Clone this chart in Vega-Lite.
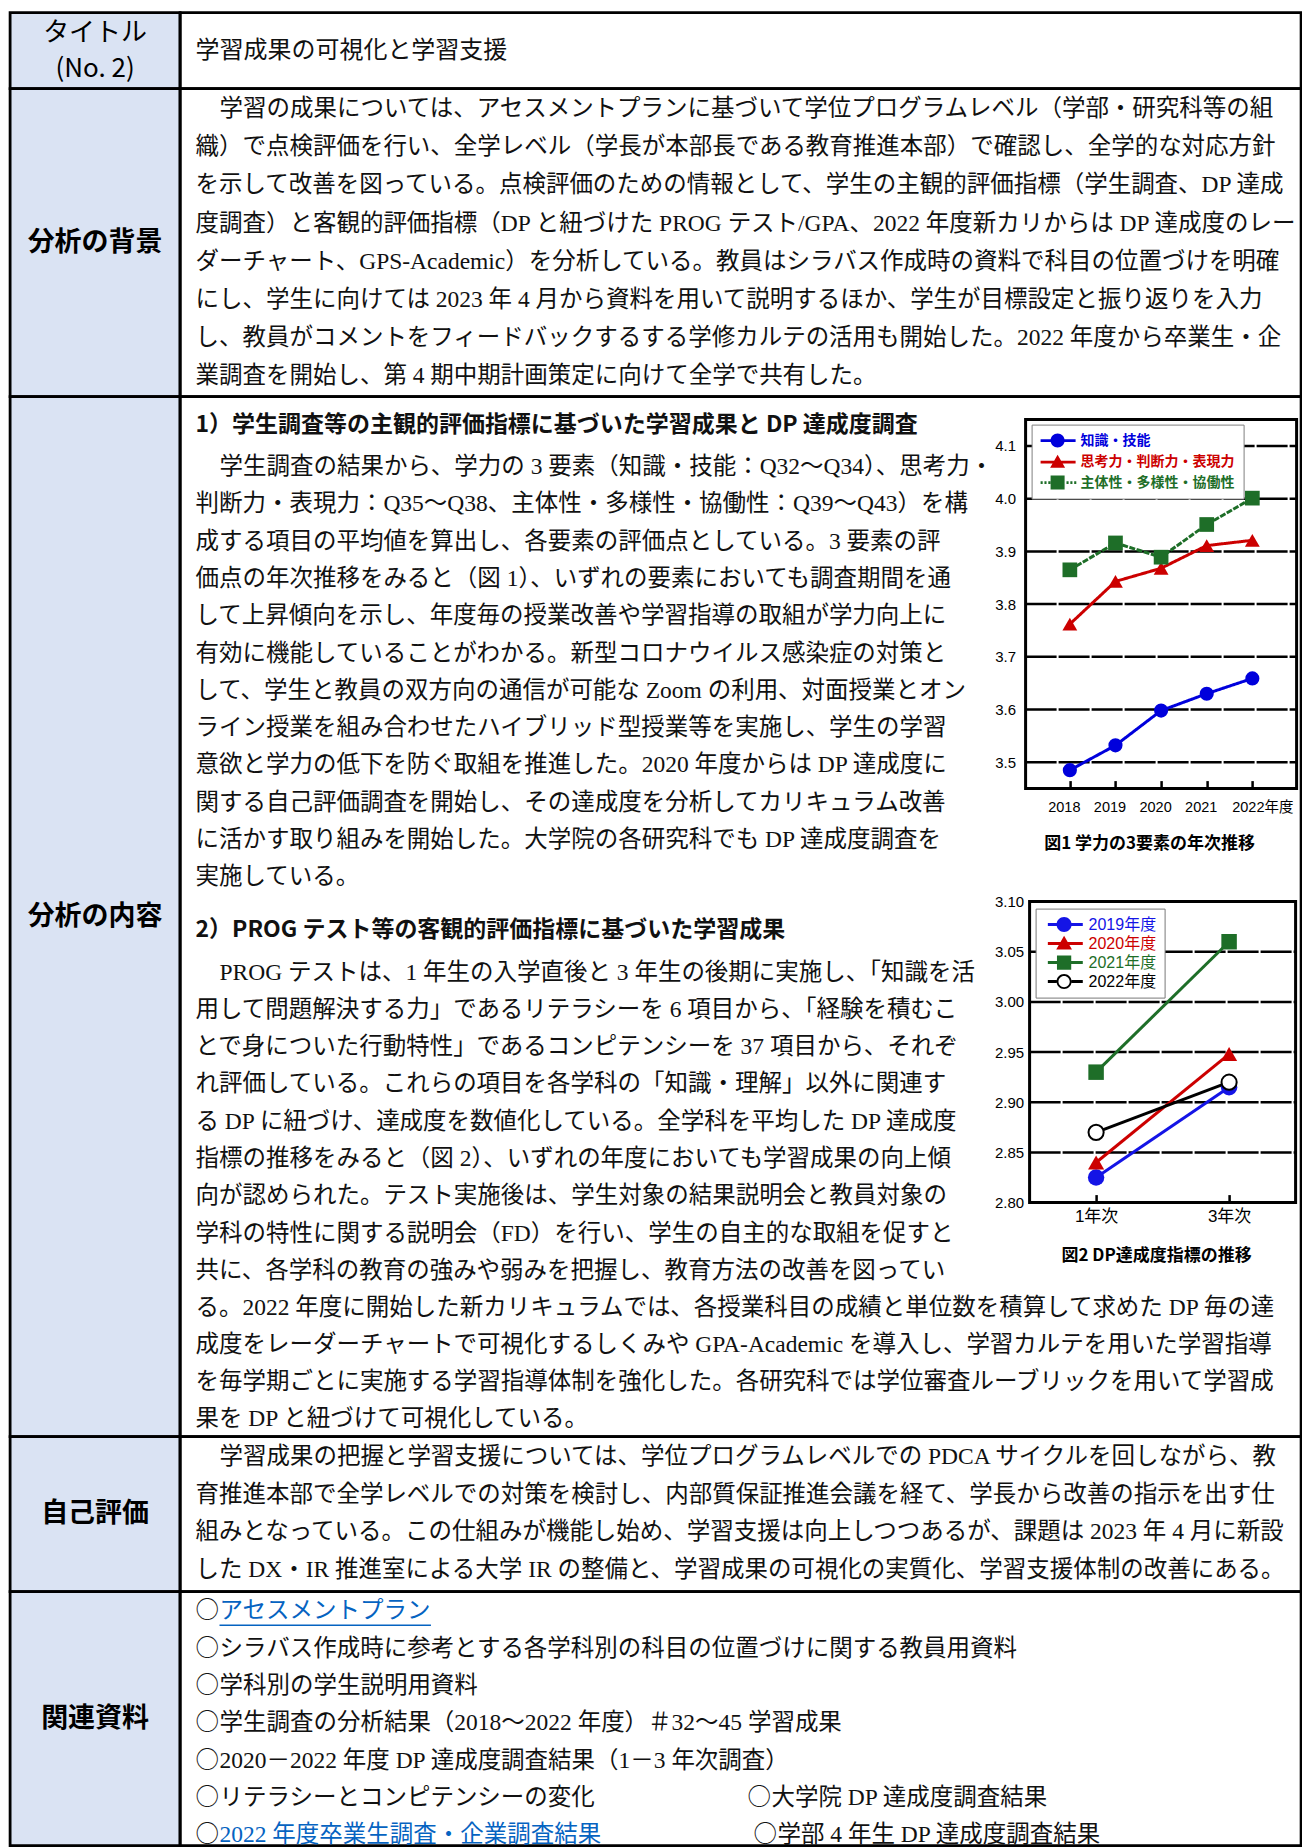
{
  "$schema": "https://vega.github.io/schema/vega-lite/v6.json",
  "autosize": {"type": "pad"},
  "padding": {"left": 8.1, "top": 10.6, "right": 0, "bottom": 0},
  "background": "white",
  "columns": 2,
  "spacing": 0,
  "bounds": "flush",
  "config": {"view": {"stroke": null}},
  "datasets": {
    "fig1": [
      {"year": 2018, "element": "知識・技能", "score": 3.485},
      {"year": 2019, "element": "知識・技能", "score": 3.532},
      {"year": 2020, "element": "知識・技能", "score": 3.598},
      {"year": 2021, "element": "知識・技能", "score": 3.630},
      {"year": 2022, "element": "知識・技能", "score": 3.659},
      {"year": 2018, "element": "思考力・判断力・表現力", "score": 3.762},
      {"year": 2019, "element": "思考力・判断力・表現力", "score": 3.843},
      {"year": 2020, "element": "思考力・判断力・表現力", "score": 3.868},
      {"year": 2021, "element": "思考力・判断力・表現力", "score": 3.911},
      {"year": 2022, "element": "思考力・判断力・表現力", "score": 3.921},
      {"year": 2018, "element": "主体性・多様性・協働性", "score": 3.865},
      {"year": 2019, "element": "主体性・多様性・協働性", "score": 3.916},
      {"year": 2020, "element": "主体性・多様性・協働性", "score": 3.889},
      {"year": 2021, "element": "主体性・多様性・協働性", "score": 3.951},
      {"year": 2022, "element": "主体性・多様性・協働性", "score": 4.001}
    ],
    "fig2": [
      {"grade": 1, "cohort": "2019年度", "score": 2.825},
      {"grade": 3, "cohort": "2019年度", "score": 2.915},
      {"grade": 1, "cohort": "2020年度", "score": 2.84},
      {"grade": 3, "cohort": "2020年度", "score": 2.948},
      {"grade": 1, "cohort": "2021年度", "score": 2.93},
      {"grade": 3, "cohort": "2021年度", "score": 3.06},
      {"grade": 1, "cohort": "2022年度", "score": 2.87},
      {"grade": 3, "cohort": "2022年度", "score": 2.92}
    ]
  },
  "resolve": {"scale": {"color": "independent", "fill": "independent", "shape": "independent", "strokeDash": "independent"}, "legend": {"color": "independent", "fill": "independent", "shape": "independent"}},
  "concat": [
    {
      "width": 170, "height": 76,
      "view": {"fill": "#dae3f3", "stroke": "black", "strokeWidth": 2.8},
      "data": {"values": [{"label": "タイトル\n(No. 2)"}]},
      "mark": {"type": "text", "align": "center", "baseline": "middle", "lineBreak": "\n", "lineHeight": 36.5, "dy": -18, "font": "Noto Sans CJK JP", "fontSize": 26, "color": "black"},
      "encoding": {
        "x": {"datum": 0.5, "type": "quantitative", "scale": {"domain": [0, 1]}, "axis": null},
        "y": {"datum": 0.5, "type": "quantitative", "scale": {"domain": [0, 1]}, "axis": null},
        "text": {"field": "label"}
      }
    },
    {
      "width": 1121, "height": 76,
      "view": {"stroke": "black", "strokeWidth": 2.8},
      "data": {"values": [{"line": 1, "text": "学習成果の可視化と学習支援"}]},
      "mark": {"type": "text", "align": "left", "baseline": "middle", "font": "Liberation Serif, Noto Sans CJK JP", "fontSize": 24, "color": "#111"},
      "encoding": {
        "x": {"datum": 0, "type": "quantitative", "scale": {"domain": [-0.642, 46.067], "nice": false, "zero": false}, "axis": null},
        "y": {"field": "line", "type": "quantitative", "scale": {"domain": [0, 2], "reverse": true, "nice": false, "zero": false}, "axis": null},
        "text": {"field": "text"}
      }
    },
    {
      "width": 170, "height": 308,
      "view": {"fill": "#dae3f3", "stroke": "black", "strokeWidth": 2.8},
      "data": {"values": [{"label": "分析の背景"}]},
      "mark": {"type": "text", "align": "center", "baseline": "middle", "font": "Noto Sans CJK JP", "fontSize": 27, "fontWeight": "bold", "color": "black"},
      "encoding": {
        "x": {"datum": 0.5, "type": "quantitative", "scale": {"domain": [0, 1]}, "axis": null},
        "y": {"datum": 0.5, "type": "quantitative", "scale": {"domain": [0, 1]}, "axis": null},
        "text": {"field": "label"}
      }
    },
    {
      "width": 1121, "height": 308,
      "view": {"stroke": "black", "strokeWidth": 2.8},
      "data": {"values": [
        {"line": 1, "indent": 1, "text": "学習の成果については、アセスメントプランに基づいて学位プログラムレベル（学部・研究科等の組"},
        {"line": 2, "indent": 0, "text": "織）で点検評価を行い、全学レベル（学長が本部長である教育推進本部）で確認し、全学的な対応方針"},
        {"line": 3, "indent": 0, "text": "を示して改善を図っている。点検評価のための情報として、学生の主観的評価指標（学生調査、DP 達成"},
        {"line": 4, "indent": 0, "text": "度調査）と客観的評価指標（DP と紐づけた PROG テスト/GPA、2022 年度新カリからは DP 達成度のレー"},
        {"line": 5, "indent": 0, "text": "ダーチャート、GPS-Academic）を分析している。教員はシラバス作成時の資料で科目の位置づけを明確"},
        {"line": 6, "indent": 0, "text": "にし、学生に向けては 2023 年 4 月から資料を用いて説明するほか、学生が目標設定と振り返りを入力"},
        {"line": 7, "indent": 0, "text": "し、教員がコメントをフィードバックするする学修カルテの活用も開始した。2022 年度から卒業生・企"},
        {"line": 8, "indent": 0, "text": "業調査を開始し、第 4 期中期計画策定に向けて全学で共有した。"}
      ]},
      "mark": {"type": "text", "align": "left", "baseline": "middle", "font": "Liberation Serif, Noto Sans CJK JP", "fontSize": 23.5, "color": "#111"},
      "encoding": {
        "x": {"field": "indent", "type": "quantitative", "scale": {"domain": [-0.642, 46.067], "nice": false, "zero": false}, "axis": null},
        "y": {"field": "line", "type": "quantitative", "scale": {"domain": [0.466, 8.529], "reverse": true, "nice": false, "zero": false}, "axis": null},
        "text": {"field": "text"}
      }
    },
    {
      "width": 170, "height": 1040,
      "view": {"fill": "#dae3f3", "stroke": "black", "strokeWidth": 2.8},
      "data": {"values": [{"label": "分析の内容"}]},
      "mark": {"type": "text", "align": "center", "baseline": "middle", "font": "Noto Sans CJK JP", "fontSize": 27, "fontWeight": "bold", "color": "black"},
      "encoding": {
        "x": {"datum": 0.5, "type": "quantitative", "scale": {"domain": [0, 1]}, "axis": null},
        "y": {"datum": 0.5, "type": "quantitative", "scale": {"domain": [0, 1]}, "axis": null},
        "text": {"field": "label"}
      }
    },
    {
      "width": 1121, "height": 1040,
      "view": {"stroke": "black", "strokeWidth": 2.8},
      "resolve": {
        "scale": {"x": "independent", "y": "independent", "color": "independent", "fill": "independent", "shape": "independent", "strokeDash": "independent"},
        "axis": {"x": "independent", "y": "independent"},
        "legend": {"color": "independent", "fill": "independent", "shape": "independent"}
      },
      "layer": [
        {
          "data": {"values": [{"line": 1, "text": "1）学生調査等の主観的評価指標に基づいた学習成果と DP 達成度調査"}]},
          "mark": {"type": "text", "align": "left", "baseline": "middle", "font": "Noto Sans CJK JP", "fontSize": 23, "fontWeight": "bold", "color": "#111"},
          "encoding": {
            "x": {"datum": 0, "type": "quantitative", "scale": {"domain": [-0.642, 46.067], "nice": false, "zero": false}, "axis": null},
            "y": {"field": "line", "type": "quantitative", "scale": {"domain": [0.436, 21.236], "reverse": true, "nice": false, "zero": false}, "axis": null},
            "text": {"field": "text"}
          }
        },
        {
          "data": {"values": [
            {"line": 1, "indent": 1, "text": "学生調査の結果から、学力の 3 要素（知識・技能：Q32〜Q34）、思考力・"},
            {"line": 2, "indent": 0, "text": "判断力・表現力：Q35〜Q38、主体性・多様性・協働性：Q39〜Q43）を構"},
            {"line": 3, "indent": 0, "text": "成する項目の平均値を算出し、各要素の評価点としている。3 要素の評"},
            {"line": 4, "indent": 0, "text": "価点の年次推移をみると（図 1）、いずれの要素においても調査期間を通"},
            {"line": 5, "indent": 0, "text": "して上昇傾向を示し、年度毎の授業改善や学習指導の取組が学力向上に"},
            {"line": 6, "indent": 0, "text": "有効に機能していることがわかる。新型コロナウイルス感染症の対策と"},
            {"line": 7, "indent": 0, "text": "して、学生と教員の双方向の通信が可能な Zoom の利用、対面授業とオン"},
            {"line": 8, "indent": 0, "text": "ライン授業を組み合わせたハイブリッド型授業等を実施し、学生の学習"},
            {"line": 9, "indent": 0, "text": "意欲と学力の低下を防ぐ取組を推進した。2020 年度からは DP 達成度に"},
            {"line": 10, "indent": 0, "text": "関する自己評価調査を開始し、その達成度を分析してカリキュラム改善"},
            {"line": 11, "indent": 0, "text": "に活かす取り組みを開始した。大学院の各研究科でも DP 達成度調査を"},
            {"line": 12, "indent": 0, "text": "実施している。"}
          ]},
          "mark": {"type": "text", "align": "left", "baseline": "middle", "font": "Liberation Serif, Noto Sans CJK JP", "fontSize": 23.5, "color": "#111"},
          "encoding": {
            "x": {"field": "indent", "type": "quantitative", "scale": {"domain": [-0.642, 46.067], "nice": false, "zero": false}, "axis": null},
            "y": {"field": "line", "type": "quantitative", "scale": {"domain": [-0.8943, 27.0102], "reverse": true, "nice": false, "zero": false}, "axis": null},
            "text": {"field": "text"}
          }
        },
        {
          "data": {"values": [{"line": 1, "text": "2）PROG テスト等の客観的評価指標に基づいた学習成果"}]},
          "mark": {"type": "text", "align": "left", "baseline": "middle", "font": "Noto Sans CJK JP", "fontSize": 23, "fontWeight": "bold", "color": "#111"},
          "encoding": {
            "x": {"datum": 0, "type": "quantitative", "scale": {"domain": [-0.642, 46.067], "nice": false, "zero": false}, "axis": null},
            "y": {"field": "line", "type": "quantitative", "scale": {"domain": [-9.674, 11.126], "reverse": true, "nice": false, "zero": false}, "axis": null},
            "text": {"field": "text"}
          }
        },
        {
          "data": {"values": [
            {"line": 1, "indent": 1, "text": "PROG テストは、1 年生の入学直後と 3 年生の後期に実施し、「知識を活"},
            {"line": 2, "indent": 0, "text": "用して問題解決する力」であるリテラシーを 6 項目から、「経験を積むこ"},
            {"line": 3, "indent": 0, "text": "とで身についた行動特性」であるコンピテンシーを 37 項目から、それぞ"},
            {"line": 4, "indent": 0, "text": "れ評価している。これらの項目を各学科の「知識・理解」以外に関連す"},
            {"line": 5, "indent": 0, "text": "る DP に紐づけ、達成度を数値化している。全学科を平均した DP 達成度"},
            {"line": 6, "indent": 0, "text": "指標の推移をみると（図 2）、いずれの年度においても学習成果の向上傾"},
            {"line": 7, "indent": 0, "text": "向が認められた。テスト実施後は、学生対象の結果説明会と教員対象の"},
            {"line": 8, "indent": 0, "text": "学科の特性に関する説明会（FD）を行い、学生の自主的な取組を促すと"},
            {"line": 9, "indent": 0, "text": "共に、各学科の教育の強みや弱みを把握し、教育方法の改善を図ってい"}
          ]},
          "mark": {"type": "text", "align": "left", "baseline": "middle", "font": "Liberation Serif, Noto Sans CJK JP", "fontSize": 23.5, "color": "#111"},
          "encoding": {
            "x": {"field": "indent", "type": "quantitative", "scale": {"domain": [-0.642, 46.067], "nice": false, "zero": false}, "axis": null},
            "y": {"field": "line", "type": "quantitative", "scale": {"domain": [-14.4616, 13.4503], "reverse": true, "nice": false, "zero": false}, "axis": null},
            "text": {"field": "text"}
          }
        },
        {
          "data": {"values": [
            {"line": 1, "text": "る。2022 年度に開始した新カリキュラムでは、各授業科目の成績と単位数を積算して求めた DP 毎の達"},
            {"line": 2, "text": "成度をレーダーチャートで可視化するしくみや GPA-Academic を導入し、学習カルテを用いた学習指導"},
            {"line": 3, "text": "を毎学期ごとに実施する学習指導体制を強化した。各研究科では学位審査ルーブリックを用いて学習成"},
            {"line": 4, "text": "果を DP と紐づけて可視化している。"}
          ]},
          "mark": {"type": "text", "align": "left", "baseline": "middle", "font": "Liberation Serif, Noto Sans CJK JP", "fontSize": 23.5, "color": "#111"},
          "encoding": {
            "x": {"datum": 0, "type": "quantitative", "scale": {"domain": [-0.642, 46.067], "nice": false, "zero": false}, "axis": null},
            "y": {"field": "line", "type": "quantitative", "scale": {"domain": [-23.6459, 4.4622], "reverse": true, "nice": false, "zero": false}, "axis": null},
            "text": {"field": "text"}
          }
        },
        {
          "data": {"values": [{"v": 3.5}, {"v": 3.6}, {"v": 3.7}, {"v": 3.8}, {"v": 3.9}, {"v": 4.0}, {"v": 4.1}]},
          "mark": {"type": "rule", "color": "black", "strokeWidth": 2.5, "strokeDash": [31, 2]},
          "encoding": {
            "y": {"field": "v", "type": "quantitative", "scale": {"domain": [2.22072, 4.19363], "nice": false, "zero": false}, "axis": null},
            "x": {"datum": 2017.03, "type": "quantitative", "scale": {"domain": [1998.4977, 2023.0686], "nice": false, "zero": false}, "axis": null},
            "x2": {"datum": 2022.97}
          }
        },
        {
          "data": {"values": [{"frame": "図1"}]},
          "mark": {"type": "rect", "filled": false, "stroke": "black", "strokeWidth": 3},
          "encoding": {
            "x": {"datum": 2017.03, "type": "quantitative", "scale": {"domain": [1998.4977, 2023.0686], "nice": false, "zero": false}, "axis": null},
            "x2": {"datum": 2022.97},
            "y": {"datum": 3.45, "type": "quantitative", "scale": {"domain": [2.22072, 4.19363], "nice": false, "zero": false}, "axis": null},
            "y2": {"datum": 4.15}
          }
        },
        {
          "data": {"name": "fig1"},
          "mark": {"type": "line", "strokeWidth": 3},
          "encoding": {
            "x": {"field": "year", "type": "quantitative", "scale": {"domain": [1998.4977, 2023.0686], "nice": false, "zero": false},
              "axis": {"orient": "bottom", "offset": -648, "values": [2018, 2019, 2020, 2021, 2022], "format": "d", "title": null, "domain": false, "grid": false, "ticks": true, "tickSize": -8, "tickWidth": 2.5, "tickColor": "black", "labelAngle": 0, "labelFlush": false, "labelOverlap": false, "labelFont": "Liberation Sans, Noto Sans CJK JP", "labelFontSize": 14.5, "labelColor": "black", "labelPadding": 20, "labelExpr": "datum.value == 2022 ? '2022年度' : datum.label", "labelOffset": {"condition": {"test": "datum.value == 2022", "value": 10}, "value": -6}}},
            "y": {"field": "score", "type": "quantitative", "scale": {"domain": [2.22072, 4.19363], "nice": false, "zero": false},
              "axis": {"orient": "left", "offset": -845.5, "values": [3.5, 3.6, 3.7, 3.8, 3.9, 4.0, 4.1], "format": ".1f", "title": null, "domain": false, "grid": false, "ticks": false, "labelPadding": 10, "labelFlush": false, "labelOverlap": false, "labelFont": "Liberation Sans", "labelFontSize": 15, "labelColor": "black"}},
            "color": {"field": "element", "type": "nominal", "scale": {"domain": ["知識・技能", "思考力・判断力・表現力", "主体性・多様性・協働性"], "range": ["#0000dc", "#cc0000", "#1e6e28"]}, "legend": null},
            "strokeDash": {"field": "element", "type": "nominal", "scale": {"domain": ["知識・技能", "思考力・判断力・表現力", "主体性・多様性・協働性"], "range": [[1, 0], [1, 0], [6, 1.5]]}, "legend": null}
          }
        },
        {
          "data": {"name": "fig1"},
          "transform": [{"filter": "datum.element == '知識・技能'"}],
          "mark": {"type": "point", "shape": "circle", "filled": true, "opacity": 1, "size": 200, "color": "#0000dc"},
          "encoding": {
            "x": {"field": "year", "type": "quantitative", "scale": {"domain": [1998.4977, 2023.0686], "nice": false, "zero": false}, "axis": null},
            "y": {"field": "score", "type": "quantitative", "scale": {"domain": [2.22072, 4.19363], "nice": false, "zero": false}, "axis": null}
          }
        },
        {
          "data": {"name": "fig1"},
          "transform": [{"filter": "datum.element == '思考力・判断力・表現力'"}],
          "mark": {"type": "point", "shape": "triangle-up", "filled": true, "opacity": 1, "size": 220, "color": "#cc0000"},
          "encoding": {
            "x": {"field": "year", "type": "quantitative", "scale": {"domain": [1998.4977, 2023.0686], "nice": false, "zero": false}, "axis": null},
            "y": {"field": "score", "type": "quantitative", "scale": {"domain": [2.22072, 4.19363], "nice": false, "zero": false}, "axis": null}
          }
        },
        {
          "data": {"name": "fig1"},
          "transform": [{"filter": "datum.element == '主体性・多様性・協働性'"}],
          "mark": {"type": "point", "shape": "square", "filled": true, "opacity": 1, "size": 216, "color": "#1e6e28"},
          "encoding": {
            "x": {"field": "year", "type": "quantitative", "scale": {"domain": [1998.4977, 2023.0686], "nice": false, "zero": false}, "axis": null},
            "y": {"field": "score", "type": "quantitative", "scale": {"domain": [2.22072, 4.19363], "nice": false, "zero": false}, "axis": null}
          }
        },
        {
          "data": {"name": "fig1"},
          "mark": {"type": "point", "filled": true, "opacity": 0},
          "encoding": {
            "x": {"field": "year", "type": "quantitative", "scale": {"domain": [1998.4977, 2023.0686], "nice": false, "zero": false}, "axis": null},
            "y": {"field": "score", "type": "quantitative", "scale": {"domain": [2.22072, 4.19363], "nice": false, "zero": false}, "axis": null},
            "fill": {"field": "element", "type": "nominal",
              "scale": {"domain": ["知識・技能", "思考力・判断力・表現力", "主体性・多様性・協働性"], "range": ["#0000dc", "#cc0000", "#1e6e28"]},
              "legend": {"orient": "none", "legendX": 851.5, "legendY": 28, "title": null, "padding": 9, "strokeColor": "#808080", "fillColor": "white", "symbolSize": 196, "symbolOpacity": 1, "symbolStrokeWidth": 0, "labelOffset": 26, "labelFont": "Noto Sans CJK JP", "labelFontSize": 14, "labelFontWeight": "bold", "labelLimit": 220, "rowPadding": 6.5, "labelColor": {"expr": "datum.value == '知識・技能' ? '#0000dc' : datum.value == '思考力・判断力・表現力' ? '#cc0000' : '#1e6e28'"}}},
            "shape": {"field": "element", "type": "nominal",
              "scale": {"domain": ["知識・技能", "思考力・判断力・表現力", "主体性・多様性・協働性"], "range": [
                "M-1,-0.2H4V0.2H-1Z M2.43,0A1,1 0 1,1 0.43,0A1,1 0 1,1 2.43,0Z",
                "M-1,-0.2H4V0.2H-1Z M1.43,-1.05L2.5,0.8L0.36,0.8Z",
                "M-1,-0.2H-0.7V0.2H-1Z M-0.45,-0.2H-0.15V0.2H-0.45Z M0.1,-0.2H0.4V0.2H0.1Z M0.43,-1H2.43V1H0.43Z M2.7,-0.2H3V0.2H2.7Z M3.25,-0.2H3.55V0.2H3.25Z M3.8,-0.2H4.1V0.2H3.8Z"
              ]},
              "legend": {"orient": "none", "legendX": 851.5, "legendY": 28, "title": null, "padding": 9, "strokeColor": "#808080", "fillColor": "white", "symbolSize": 196, "symbolOpacity": 1, "symbolStrokeWidth": 0, "labelOffset": 26, "labelFont": "Noto Sans CJK JP", "labelFontSize": 14, "labelFontWeight": "bold", "labelLimit": 220, "rowPadding": 6.5, "labelColor": {"expr": "datum.value == '知識・技能' ? '#0000dc' : datum.value == '思考力・判断力・表現力' ? '#cc0000' : '#1e6e28'"}}}
          }
        },
        {
          "data": {"values": [{"caption": "図1 学力の3要素の年次推移"}]},
          "mark": {"type": "text", "align": "center", "baseline": "middle", "font": "Noto Sans CJK JP", "fontSize": 17, "fontWeight": "bold", "color": "black", "dx": -11.5, "dy": 55},
          "encoding": {
            "x": {"datum": 2020, "type": "quantitative", "scale": {"domain": [1998.4977, 2023.0686], "nice": false, "zero": false}, "axis": null},
            "y": {"datum": 3.45, "type": "quantitative", "scale": {"domain": [2.22072, 4.19363], "nice": false, "zero": false}, "axis": null},
            "text": {"field": "caption"}
          }
        },
        {
          "data": {"values": [{"v": 2.85}, {"v": 2.9}, {"v": 2.95}, {"v": 3.0}, {"v": 3.05}]},
          "mark": {"type": "rule", "color": "black", "strokeWidth": 2.5, "strokeDash": [31, 2]},
          "encoding": {
            "y": {"field": "v", "type": "quantitative", "scale": {"domain": [2.56678, 3.60332], "nice": false, "zero": false}, "axis": null},
            "x": {"datum": 0, "type": "quantitative", "scale": {"domain": [-12.7744, 4.0827], "nice": false, "zero": false}, "axis": null},
            "x2": {"datum": 4}
          }
        },
        {
          "data": {"values": [{"frame": "図2"}]},
          "mark": {"type": "rect", "filled": false, "stroke": "black", "strokeWidth": 3},
          "encoding": {
            "x": {"datum": 0, "type": "quantitative", "scale": {"domain": [-12.7744, 4.0827], "nice": false, "zero": false}, "axis": null},
            "x2": {"datum": 4},
            "y": {"datum": 2.8, "type": "quantitative", "scale": {"domain": [2.56678, 3.60332], "nice": false, "zero": false}, "axis": null},
            "y2": {"datum": 3.1}
          }
        },
        {
          "data": {"name": "fig2"},
          "mark": {"type": "line", "strokeWidth": 3},
          "encoding": {
            "x": {"field": "grade", "type": "quantitative", "scale": {"domain": [-12.7744, 4.0827], "nice": false, "zero": false},
              "axis": {"orient": "bottom", "offset": -234, "values": [1, 3], "title": null, "domain": false, "grid": false, "ticks": true, "tickSize": -8, "tickWidth": 2.5, "tickColor": "black", "labelAngle": 0, "labelFlush": false, "labelOverlap": false, "labelFont": "Liberation Sans, Noto Sans CJK JP", "labelFontSize": 17, "labelColor": "black", "labelPadding": 14, "labelExpr": "datum.value + '年次'"}},
            "y": {"field": "score", "type": "quantitative", "scale": {"domain": [2.56678, 3.60332], "nice": false, "zero": false},
              "axis": {"orient": "left", "offset": -849.5, "values": [2.8, 2.85, 2.9, 2.95, 3.0, 3.05, 3.1], "format": ".2f", "title": null, "domain": false, "grid": false, "ticks": false, "labelPadding": 6, "labelFlush": false, "labelOverlap": false, "labelFont": "Liberation Sans", "labelFontSize": 15, "labelColor": "black"}},
            "color": {"field": "cohort", "type": "nominal", "scale": {"domain": ["2019年度", "2020年度", "2021年度", "2022年度"], "range": ["#1414e6", "#cc0000", "#1e6e28", "#000000"]}, "legend": null}
          }
        },
        {
          "data": {"name": "fig2"},
          "transform": [{"filter": "datum.cohort == '2019年度'"}],
          "mark": {"type": "point", "shape": "circle", "filled": true, "opacity": 1, "size": 270, "color": "#1414e6"},
          "encoding": {
            "x": {"field": "grade", "type": "quantitative", "scale": {"domain": [-12.7744, 4.0827], "nice": false, "zero": false}, "axis": null},
            "y": {"field": "score", "type": "quantitative", "scale": {"domain": [2.56678, 3.60332], "nice": false, "zero": false}, "axis": null}
          }
        },
        {
          "data": {"name": "fig2"},
          "transform": [{"filter": "datum.cohort == '2020年度'"}],
          "mark": {"type": "point", "shape": "triangle-up", "filled": true, "opacity": 1, "size": 260, "color": "#cc0000"},
          "encoding": {
            "x": {"field": "grade", "type": "quantitative", "scale": {"domain": [-12.7744, 4.0827], "nice": false, "zero": false}, "axis": null},
            "y": {"field": "score", "type": "quantitative", "scale": {"domain": [2.56678, 3.60332], "nice": false, "zero": false}, "axis": null}
          }
        },
        {
          "data": {"name": "fig2"},
          "transform": [{"filter": "datum.cohort == '2021年度'"}],
          "mark": {"type": "point", "shape": "square", "filled": true, "opacity": 1, "size": 240, "color": "#1e6e28"},
          "encoding": {
            "x": {"field": "grade", "type": "quantitative", "scale": {"domain": [-12.7744, 4.0827], "nice": false, "zero": false}, "axis": null},
            "y": {"field": "score", "type": "quantitative", "scale": {"domain": [2.56678, 3.60332], "nice": false, "zero": false}, "axis": null}
          }
        },
        {
          "data": {"name": "fig2"},
          "transform": [{"filter": "datum.cohort == '2022年度'"}],
          "mark": {"type": "point", "shape": "circle", "filled": true, "fill": "white", "stroke": "black", "strokeWidth": 2, "opacity": 1, "size": 230},
          "encoding": {
            "x": {"field": "grade", "type": "quantitative", "scale": {"domain": [-12.7744, 4.0827], "nice": false, "zero": false}, "axis": null},
            "y": {"field": "score", "type": "quantitative", "scale": {"domain": [2.56678, 3.60332], "nice": false, "zero": false}, "axis": null}
          }
        },
        {
          "data": {"name": "fig2"},
          "mark": {"type": "point", "filled": true, "opacity": 0},
          "encoding": {
            "x": {"field": "grade", "type": "quantitative", "scale": {"domain": [-12.7744, 4.0827], "nice": false, "zero": false}, "axis": null},
            "y": {"field": "score", "type": "quantitative", "scale": {"domain": [2.56678, 3.60332], "nice": false, "zero": false}, "axis": null},
            "fill": {"field": "cohort", "type": "nominal",
              "scale": {"domain": ["2019年度", "2020年度", "2021年度", "2022年度"], "range": ["#1414e6", "#cc0000", "#1e6e28", "#000000"]},
              "legend": {"orient": "none", "legendX": 855.5, "legendY": 512, "title": null, "padding": 8, "strokeColor": "#777777", "fillColor": "white", "symbolSize": 225, "symbolOpacity": 1, "symbolStrokeWidth": 0, "labelOffset": 29, "labelFont": "Liberation Sans, Noto Sans CJK JP", "labelFontSize": 16, "labelLimit": 200, "rowPadding": 3, "labelColor": {"expr": "datum.value == '2019年度' ? '#1414e6' : datum.value == '2020年度' ? '#cc0000' : datum.value == '2021年度' ? '#1e6e28' : '#000000'"}}},
            "shape": {"field": "cohort", "type": "nominal",
              "scale": {"domain": ["2019年度", "2020年度", "2021年度", "2022年度"], "range": [
                "M-0.5,-0.2H4.16V0.2H-0.5Z M2.667,0A1,1 0 1,1 0.667,0A1,1 0 1,1 2.667,0Z",
                "M-0.5,-0.2H4.16V0.2H-0.5Z M1.667,-1.05L2.717,0.8L0.617,0.8Z",
                "M-0.5,-0.2H4.16V0.2H-0.5Z M0.717,-0.95H2.617V0.95H0.717Z",
                "M-0.5,-0.2H0.667V0.2H-0.5Z M2.667,-0.2H4.16V0.2H2.667Z M2.667,0A1,1 0 1,1 0.667,0A1,1 0 1,1 2.667,0Z M2.417,0A0.75,0.75 0 1,0 0.917,0A0.75,0.75 0 1,0 2.417,0Z"
              ]},
              "legend": {"orient": "none", "legendX": 855.5, "legendY": 512, "title": null, "padding": 8, "strokeColor": "#777777", "fillColor": "white", "symbolSize": 225, "symbolOpacity": 1, "symbolStrokeWidth": 0, "labelOffset": 29, "labelFont": "Liberation Sans, Noto Sans CJK JP", "labelFontSize": 16, "labelLimit": 200, "rowPadding": 3, "labelColor": {"expr": "datum.value == '2019年度' ? '#1414e6' : datum.value == '2020年度' ? '#cc0000' : datum.value == '2021年度' ? '#1e6e28' : '#000000'"}}}
          }
        },
        {
          "data": {"values": [{"caption": "図2 DP達成度指標の推移"}]},
          "mark": {"type": "text", "align": "center", "baseline": "middle", "font": "Noto Sans CJK JP", "fontSize": 17, "fontWeight": "bold", "color": "black", "dx": -6, "dy": 53},
          "encoding": {
            "x": {"datum": 2, "type": "quantitative", "scale": {"domain": [-12.7744, 4.0827], "nice": false, "zero": false}, "axis": null},
            "y": {"datum": 2.8, "type": "quantitative", "scale": {"domain": [2.56678, 3.60332], "nice": false, "zero": false}, "axis": null},
            "text": {"field": "caption"}
          }
        }
      ]
    },
    {
      "width": 170, "height": 155,
      "view": {"fill": "#dae3f3", "stroke": "black", "strokeWidth": 2.8},
      "data": {"values": [{"label": "自己評価"}]},
      "mark": {"type": "text", "align": "center", "baseline": "middle", "font": "Noto Sans CJK JP", "fontSize": 27, "fontWeight": "bold", "color": "black"},
      "encoding": {
        "x": {"datum": 0.5, "type": "quantitative", "scale": {"domain": [0, 1]}, "axis": null},
        "y": {"datum": 0.5, "type": "quantitative", "scale": {"domain": [0, 1]}, "axis": null},
        "text": {"field": "label"}
      }
    },
    {
      "width": 1121, "height": 155,
      "view": {"stroke": "black", "strokeWidth": 2.8},
      "data": {"values": [
        {"line": 1, "indent": 1, "text": "学習成果の把握と学習支援については、学位プログラムレベルでの PDCA サイクルを回しながら、教"},
        {"line": 2, "indent": 0, "text": "育推進本部で全学レベルでの対策を検討し、内部質保証推進会議を経て、学長から改善の指示を出す仕"},
        {"line": 3, "indent": 0, "text": "組みとなっている。この仕組みが機能し始め、学習支援は向上しつつあるが、課題は 2023 年 4 月に新設"},
        {"line": 4, "indent": 0, "text": "した DX・IR 推進室による大学 IR の整備と、学習成果の可視化の実質化、学習支援体制の改善にある。"}
      ]},
      "mark": {"type": "text", "align": "left", "baseline": "middle", "font": "Liberation Serif, Noto Sans CJK JP", "fontSize": 23.5, "color": "#111"},
      "encoding": {
        "x": {"field": "indent", "type": "quantitative", "scale": {"domain": [-0.642, 46.067], "nice": false, "zero": false}, "axis": null},
        "y": {"field": "line", "type": "quantitative", "scale": {"domain": [0.459, 4.57], "reverse": true, "nice": false, "zero": false}, "axis": null},
        "text": {"field": "text"}
      }
    },
    {
      "width": 170, "height": 254,
      "view": {"fill": "#dae3f3", "stroke": "black", "strokeWidth": 2.8},
      "data": {"values": [{"label": "関連資料"}]},
      "mark": {"type": "text", "align": "center", "baseline": "middle", "font": "Noto Sans CJK JP", "fontSize": 27, "fontWeight": "bold", "color": "black"},
      "encoding": {
        "x": {"datum": 0.5, "type": "quantitative", "scale": {"domain": [0, 1]}, "axis": null},
        "y": {"datum": 0.5, "type": "quantitative", "scale": {"domain": [0, 1]}, "axis": null},
        "text": {"field": "label"}
      }
    },
    {
      "width": 1121, "height": 254,
      "view": {"stroke": "black", "strokeWidth": 2.8},
      "data": {"values": [
        {"line": 1, "pos": 0, "text": "○", "kind": "bullet"},
        {"line": 1, "pos": 1, "text": "アセスメントプラン", "kind": "link"},
        {"line": 2, "pos": 0, "text": "○", "kind": "bullet"},
        {"line": 2, "pos": 1, "text": "シラバス作成時に参考とする各学科別の科目の位置づけに関する教員用資料", "kind": "plain"},
        {"line": 3, "pos": 0, "text": "○", "kind": "bullet"},
        {"line": 3, "pos": 1, "text": "学科別の学生説明用資料", "kind": "plain"},
        {"line": 4, "pos": 0, "text": "○", "kind": "bullet"},
        {"line": 4, "pos": 1, "text": "学生調査の分析結果（2018〜2022 年度）＃32〜45 学習成果", "kind": "plain"},
        {"line": 5, "pos": 0, "text": "○", "kind": "bullet"},
        {"line": 5, "pos": 1, "text": "2020－2022 年度 DP 達成度調査結果（1－3 年次調査）", "kind": "plain"},
        {"line": 6, "pos": 0, "text": "○", "kind": "bullet"},
        {"line": 6, "pos": 1, "text": "リテラシーとコンピテンシーの変化", "kind": "plain"},
        {"line": 6, "pos": 23, "text": "○", "kind": "bullet"},
        {"line": 6, "pos": 24, "text": "大学院 DP 達成度調査結果", "kind": "plain"},
        {"line": 7, "pos": 0, "text": "○", "kind": "bullet"},
        {"line": 7, "pos": 1, "text": "2022 年度卒業生調査・企業調査結果", "kind": "link"},
        {"line": 7, "pos": 23.25, "text": "○", "kind": "bullet"},
        {"line": 7, "pos": 24.25, "text": "学部 4 年生 DP 達成度調査結果", "kind": "plain"}
      ]},
      "encoding": {
        "x": {"field": "pos", "type": "quantitative", "scale": {"domain": [-0.642, 46.067], "nice": false, "zero": false}, "axis": null},
        "y": {"field": "line", "type": "quantitative", "scale": {"domain": [0.472, 7.278], "reverse": true, "nice": false, "zero": false}, "axis": null}
      },
      "layer": [
        {
          "transform": [{"filter": "datum.kind == 'bullet'"}],
          "mark": {"type": "text", "align": "left", "baseline": "middle", "font": "Noto Sans CJK JP", "fontSize": 23.5, "color": "#111"},
          "encoding": {"text": {"field": "text"}}
        },
        {
          "transform": [{"filter": "datum.kind != 'bullet'"}],
          "mark": {"type": "text", "align": "left", "baseline": "middle", "font": "Liberation Serif, Noto Sans CJK JP", "fontSize": 23.5},
          "encoding": {
            "text": {"field": "text"},
            "color": {"field": "kind", "type": "nominal", "scale": {"domain": ["plain", "link"], "range": ["#111111", "#0563c1"]}, "legend": null}
          }
        },
        {
          "data": {"values": [
            {"line": 1, "pos": 1, "end": 9.81, "kind": "link"},
            {"line": 7, "pos": 1, "end": 16.9, "kind": "link"}
          ]},
          "mark": {"type": "rule", "color": "#0563c1", "strokeWidth": 1.6, "yOffset": 14},
          "encoding": {"x2": {"field": "end"}}
        }
      ]
    }
  ]
}
